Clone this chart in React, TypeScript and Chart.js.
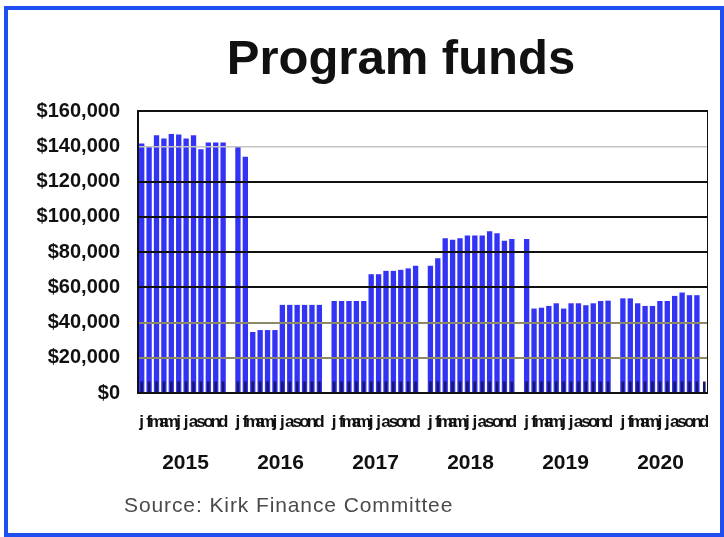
import React, { useEffect, useRef } from 'react';
import { Chart, registerables } from 'chart.js';

Chart.register(...registerables);

const YEARS = ['2015', '2016', '2017', '2018', '2019', '2020'];
const MONTH_LETTERS = ['j', 'f', 'm', 'a', 'm', 'j', 'j', 'a', 's', 'o', 'n', 'd'];
const Y_TICKS = [0, 20000, 40000, 60000, 80000, 100000, 120000, 140000, 160000];

// Program funds per month (blue bars)
const FUNDS_2015 = [141500, 139600, 146300, 144400, 146900, 146700, 144400, 146300, 138300, 142100, 142100, 142100];
const FUNDS_2016 = [139600, 134000, 34600, 35700, 35700, 35700, 50000, 50000, 50000, 50000, 50000, 50000];
const FUNDS_2017 = [52200, 52200, 52200, 52200, 52200, 67400, 67400, 69300, 69300, 69900, 70700, 72200];
const FUNDS_2018 = [72200, 76400, 87800, 87000, 87800, 89300, 89300, 89300, 91800, 90600, 86400, 87400];
const FUNDS_2019 = [87400, 47900, 48400, 49400, 50900, 47900, 50900, 50900, 49800, 50900, 52200, 52400];
const FUNDS_2020 = [53700, 53700, 50900, 49400, 49400, 52200, 52200, 55100, 57000, 55500, 55500, null];

// small dark series at the foot of each month
const BASE_2015 = [6500, 6500, 6500, 6500, 6500, 6500, 6500, 6500, 6500, 6500, 6500, 6500];
const BASE_2016 = [6500, 6500, 6500, 6500, 6500, 6500, 6500, 6500, 6500, 6500, 6500, 6500];
const BASE_2017 = [6500, 6500, 6500, 6500, 6500, 6500, 6500, 6500, 6500, 6500, 6500, 6500];
const BASE_2018 = [6500, 6500, 6500, 6500, 6500, 6500, 6500, 6500, 6500, 6500, 6500, 6500];
const BASE_2019 = [6500, 6500, 6500, 6500, 6500, 6500, 6500, 6500, 6500, 6500, 6500, 6500];
const BASE_2020 = [6500, 6500, 6500, 6500, 6500, 6500, 6500, 6500, 6500, 6500, 6500, 6500];

const FUNDS = [FUNDS_2015, FUNDS_2016, FUNDS_2017, FUNDS_2018, FUNDS_2019, FUNDS_2020];
const BASE = [BASE_2015, BASE_2016, BASE_2017, BASE_2018, BASE_2019, BASE_2020];

const FONT = '"Liberation Sans", Arial, Helvetica, sans-serif';

const framePlugin = {
  id: 'plotFrame',
  afterDraw(chart: any) {
    const { ctx, chartArea } = chart;
    const { left, top, right, bottom } = chartArea;
    ctx.save();
    ctx.strokeStyle = '#111111';
    ctx.lineWidth = 2;
    ctx.strokeRect(left, top, right - left, bottom - top);
    ctx.restore();
  },
};

export default function App() {
  const canvasRef = useRef<HTMLCanvasElement>(null);

  useEffect(() => {
    const labels: string[] = [];
    const funds: (number | null)[] = [];
    const base: (number | null)[] = [];
    YEARS.forEach((_, yi) => {
      MONTH_LETTERS.forEach((m, mi) => {
        labels.push(m);
        funds.push(FUNDS[yi][mi]);
        base.push(BASE[yi][mi]);
      });
      if (yi < YEARS.length - 1) {
        labels.push('');
        funds.push(null);
        base.push(null);
      }
    });

    const gridColor = (ctx: any) => {
      const v = ctx.tick ? ctx.tick.value : 0;
      if (v === 140000) return '#c4c4c4';
      if (v === 20000 || v === 40000) return '#8d8a66';
      return '#111111';
    };

    const chart = new Chart(canvasRef.current as HTMLCanvasElement, {
      type: 'bar',
      data: {
        labels,
        datasets: [
          {
            label: 'Base',
            data: base,
            backgroundColor: '#16166e',
            barPercentage: 0.35,
            categoryPercentage: 1,
            grouped: false,
          },
          {
            label: 'Program funds',
            data: funds,
            backgroundColor: '#3333f5',
            barPercentage: 0.72,
            categoryPercentage: 1,
            grouped: false,
          },
        ],
      } as any,
      options: {
        animation: false,
        responsive: true,
        maintainAspectRatio: false,
        layout: { padding: { top: 0, right: 0, bottom: 17, left: 0 } },
        plugins: {
          legend: { display: false },
          tooltip: { enabled: false },
          title: { display: false },
        },
        scales: {
          x: {
            type: 'category',
            offset: true,
            grid: { display: false, drawTicks: false },
            border: { display: false },
            ticks: {
              autoSkip: false,
              maxRotation: 0,
              minRotation: 0,
              padding: 19,
              color: '#111111',
              font: { family: FONT, size: 17, weight: 'bold' },
            },
            afterFit: (s: any) => {
              s.height = 40;
              s.paddingLeft = 0;
              s.paddingRight = 0;
            },
          },
          x2: {
            type: 'category',
            labels: YEARS,
            position: 'bottom',
            offset: true,
            grid: { display: false, drawTicks: false },
            border: { display: false },
            ticks: {
              autoSkip: false,
              maxRotation: 0,
              padding: 18,
              color: '#111111',
              font: { family: FONT, size: 21, weight: 'bold' },
            },
            afterFit: (s: any) => {
              s.height = 45;
              s.paddingLeft = 0;
              s.paddingRight = 0;
            },
          },
          y: {
            min: 0,
            max: 160000,
            afterBuildTicks: (s: any) => {
              s.ticks = Y_TICKS.map((v) => ({ value: v }));
            },
            ticks: {
              padding: 18,
              color: '#111111',
              font: { family: FONT, size: 20, weight: 'bold' },
              callback: (v: any) => '$' + Number(v).toLocaleString('en-US'),
            },
            grid: {
              z: 1,
              drawTicks: false,
              color: gridColor,
              lineWidth: (ctx: any) => (ctx.tick && ctx.tick.value === 140000 ? 1.5 : 2),
            },
            border: { display: false },
            afterFit: (s: any) => {
              s.width = 128;
            },
          },
        },
      } as any,
      plugins: [framePlugin],
    });
    return () => chart.destroy();
  }, []);

  return (
    <div>
      <div
        style={{
          position: 'absolute',
          left: 4,
          top: 6,
          width: 720,
          height: 531,
          border: '4px solid #1f4ff0',
          boxSizing: 'border-box',
          background: '#ffffff',
        }}
      />
      <div
        style={{
          position: 'absolute',
          left: 201,
          top: 33,
          width: 400,
          textAlign: 'center',
          fontFamily: FONT,
          fontWeight: 'bold',
          fontSize: 49,
          lineHeight: '49px',
          color: '#111111',
          whiteSpace: 'nowrap',
        }}
      >
        Program funds
      </div>
      <div style={{ position: 'absolute', left: 10, top: 81, width: 698, height: 414 }}>
        <canvas ref={canvasRef} />
      </div>
      <div
        style={{
          position: 'absolute',
          left: 124,
          top: 494,
          fontFamily: FONT,
          fontSize: 21,
          lineHeight: '21px',
          letterSpacing: '0.9px',
          color: '#4a4a4a',
          whiteSpace: 'nowrap',
        }}
      >
        Source: Kirk Finance Committee
      </div>
    </div>
  );
}
